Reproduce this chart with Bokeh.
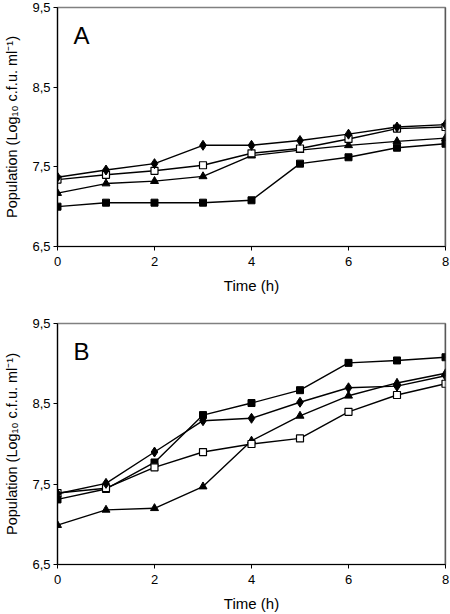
from bokeh.plotting import figure
from bokeh.layouts import column
from bokeh.models import FixedTicker, Label, Span
from bokeh.embed import file_html
from bokeh.resources import INLINE

hours = [0, 1, 2, 3, 4, 5, 6, 7, 8]

# Panel A
a_diamond = [7.37, 7.46, 7.54, 7.77, 7.77, 7.83, 7.91, 8.00, 8.03]
a_open_square = [7.34, 7.40, 7.45, 7.52, 7.67, 7.73, 7.85, 7.98, 8.00]
a_triangle = [7.17, 7.29, 7.32, 7.38, 7.64, 7.71, 7.77, 7.82, 7.86]
a_square = [7.00, 7.05, 7.05, 7.05, 7.08, 7.54, 7.62, 7.74, 7.79]

# Panel B
b_diamond = [7.38, 7.51, 7.90, 8.29, 8.32, 8.52, 8.70, 8.72, 8.85]
b_open_square = [7.39, 7.45, 7.71, 7.90, 8.00, 8.07, 8.40, 8.61, 8.75]
b_triangle = [6.99, 7.18, 7.20, 7.47, 8.04, 8.35, 8.60, 8.76, 8.88]
b_square = [7.31, 7.44, 7.77, 8.36, 8.51, 8.67, 9.01, 9.04, 9.08]

y_ticks = [6.5, 7.5, 8.5, 9.5]
y_tick_labels = ["6,5", "7,5", "8,5", "9,5"]
x_ticks = [0, 2, 4, 6, 8]

FONT = "Liberation Sans"


def make_panel(letter, diamond, open_square, triangle, square, height, top, bottom):
    p = figure(width=450, height=height, x_range=(0, 8), y_range=(6.5, 9.5),
               output_backend="svg", toolbar_location=None,
               min_border_left=57, min_border_right=5,
               min_border_top=top, min_border_bottom=bottom)
    p.xgrid.visible = False
    p.ygrid.visible = False
    p.outline_line_color = "#808080"
    p.outline_line_width = 1.5
    p.background_fill_color = "white"
    p.border_fill_color = "white"

    for ax in (p.xaxis[0], p.yaxis[0]):
        ax.axis_line_color = "black"
        ax.axis_line_width = 1.2
        ax.major_tick_line_color = "black"
        ax.major_tick_out = 4
        ax.major_tick_in = 0
        ax.minor_tick_line_color = None
        ax.major_label_text_font = FONT
        ax.major_label_text_font_size = "13px"
        ax.major_label_text_color = "black"
        ax.axis_label_text_font = FONT
        ax.axis_label_text_font_style = "normal"
        ax.axis_label_text_color = "black"

    p.xaxis.ticker = FixedTicker(ticks=x_ticks)
    p.yaxis.ticker = FixedTicker(ticks=y_ticks)
    p.yaxis.major_label_overrides = {t: l for t, l in zip(y_ticks, y_tick_labels)}
    p.xaxis.axis_label = "Time (h)"
    p.xaxis.axis_label_text_font_size = "15px"
    p.xaxis.axis_label_standoff = 8
    p.xaxis.major_label_standoff = 6
    p.yaxis.axis_label = "Population (Log\u2081\u2080 c.f.u. ml\u207b\u00b9)"
    p.yaxis.axis_label_text_font_size = "14.5px"
    p.yaxis.axis_label_standoff = 9
    p.yaxis.major_label_standoff = 3

    p.add_layout(Span(location=8, dimension="height", line_color="#303030", line_width=1.5))

    p.line(hours, square, line_color="black", line_width=1.4)
    p.scatter(hours, square, marker="square", size=7, fill_color="black", line_color="black")
    p.line(hours, triangle, line_color="black", line_width=1.4)
    p.scatter(hours, triangle, marker="triangle", size=8, fill_color="black", line_color="black")
    p.line(hours, open_square, line_color="black", line_width=1.4)
    p.scatter(hours, open_square, marker="square", size=7, fill_color="white", line_color="black", line_width=1.2)
    p.line(hours, diamond, line_color="black", line_width=1.4)
    p.scatter(hours, diamond, marker="diamond", size=10, fill_color="black", line_color="black")

    p.add_layout(Label(x=0.33, y=9.15, text=letter, text_font=FONT, text_font_size="24px",
                       text_baseline="middle", text_align="left", text_color="black"))
    return p


pA = make_panel("A", a_diamond, a_open_square, a_triangle, a_square, 307, 7, 61)
pB = make_panel("B", b_diamond, b_open_square, b_triangle, b_square, 307, 16, 48)

layout = column(pA, pB, spacing=0,
                styles={"position": "absolute", "left": "0px", "top": "0px"})

open("out.html", "w").write(file_html(layout, INLINE))
